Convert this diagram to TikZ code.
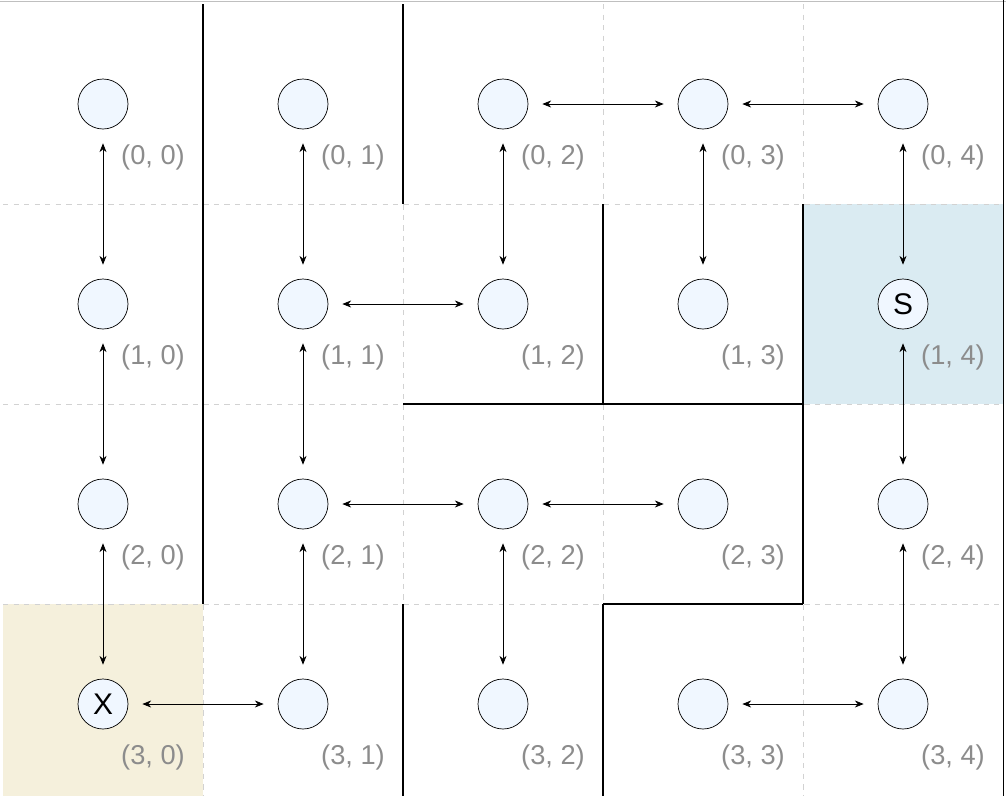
\documentclass[tikz,border=0pt]{standalone}
\usepackage{fontspec}
\setmainfont{Liberation Sans}
\usetikzlibrary{arrows.meta}
\definecolor{cellblue}{RGB}{218,235,242}
\definecolor{cellsand}{RGB}{245,240,220}
\definecolor{statefill}{RGB}{240,247,255}
\definecolor{labgray}{RGB}{140,140,140}

\begin{document}
\begin{tikzpicture}[x=4cm,y=-4cm,
	state/.style={circle,draw,thin,fill=statefill,minimum size=1cm,inner sep=0pt,font=\fontsize{17}{17}\selectfont},
	coord/.style={text=labgray,font=\fontsize{15.5}{15.5}\selectfont},
	move/.style={{Stealth[length=5pt,width=4pt]}-{Stealth[length=5pt,width=4pt]},thin,shorten <=0.28cm,shorten >=0.28cm},
	wall/.style={line width=1.2pt},
	gridline/.style={gray!35,thin,dash pattern=on 3pt off 3pt}]
				\useasboundingbox (-0.015,-0.02) rectangle (5.015,3.96);
				% Start and goal cells
				\fill[cellsand] (0,3) rectangle (1,3.96);
				\fill[cellblue] (4,1) rectangle (5,2);
				% Grid
				\foreach \x in {1,...,4}
					\draw[gridline] (\x,0) -- (\x,3.96);
				\foreach \y in {1,2,3}
					\draw[gridline] (0,\y) -- (5,\y);
				% Frame
				\draw[gray!50,thin] (-0.015,-0.0125) -- (5.015,-0.0125);
				\draw[thin] (5,-0.02) -- (5,3.96);
				% Walls
				\draw[wall] (1,0) -- (1,3);
				\draw[wall] (2,0) -- (2,1);
				\draw[wall] (2,3) -- (2,3.96);
				\draw[wall] (3,1) -- (3,2);
				\draw[wall] (3,3) -- (3,3.96);
				\draw[wall] (4,1) -- (4,3);
				\draw[wall] (2,2) -- (4,2);
				\draw[wall] (3,3) -- (4,3);
				% States
				\foreach \r in {0,...,3}
					\foreach \c in {0,...,4} {
						\node[state] (s\r\c) at (\c+0.5,\r+0.5) {};
						\node[coord] (l\r\c) at (\c+0.75,\r+0.765) {(\r, \c)};
					}
				\node[font=\fontsize{17}{17}\selectfont] (goal) at (s30) {X};
				\node[font=\fontsize{17}{17}\selectfont] (start) at (s14) {S};
				% Moves
				\foreach \a/\b in {s00/s10,s10/s20,s20/s30,s01/s11,s11/s21,s21/s31,
						s02/s12,s22/s32,s03/s13,s04/s14,s14/s24,s24/s34,
						s02/s03,s03/s04,s11/s12,s21/s22,s22/s23,s30/s31,s33/s34}
					\draw[move] (\a) -- (\b);
			\end{tikzpicture}
\end{document}
